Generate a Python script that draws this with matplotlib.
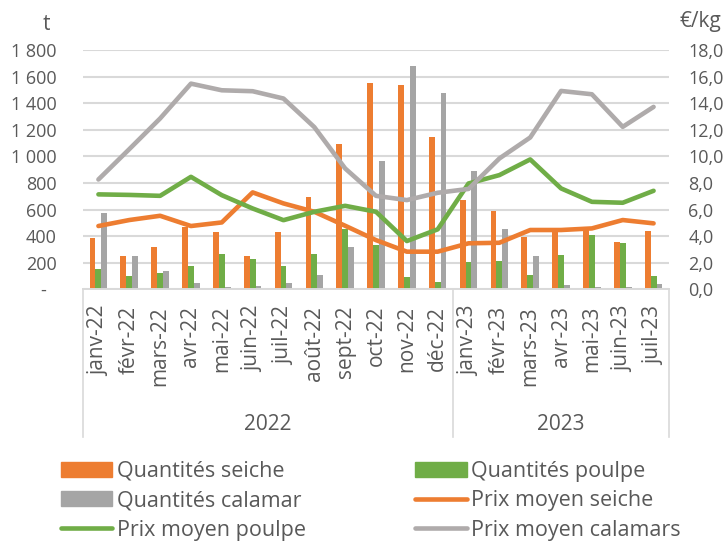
import numpy as np
import matplotlib
matplotlib.use("Agg")
import matplotlib.pyplot as plt
from matplotlib.patches import Patch
from matplotlib.lines import Line2D

plt.rcParams['font.family'] = ['Open Sans', 'DejaVu Sans']

mois = ['janv-22', 'févr-22', 'mars-22', 'avr-22', 'mai-22', 'juin-22', 'juil-22',
        'août-22', 'sept-22', 'oct-22', 'nov-22', 'déc-22',
        'janv-23', 'févr-23', 'mars-23', 'avr-23', 'mai-23', 'juin-23', 'juil-23']

# quantités (t)
qte_seiche = [383, 250, 315, 466, 430, 250, 430, 691, 1096, 1555, 1534, 1146,
              670, 590, 390, 433, 470, 358, 438]
qte_poulpe = [150, 102, 125, 175, 265, 225, 175, 265, 450, 333, 95, 53,
              207, 212, 107, 258, 408, 345, 102]
qte_calamar = [571, 248, 140, 45, 20, 25, 50, 107, 320, 963, 1677, 1479,
               891, 453, 250, 32, 15, 15, 40]

# prix moyens (€/kg)
prix_seiche = [4.76, 5.21, 5.53, 4.76, 5.03, 7.29, 6.46, 5.83, 4.78, 3.70, 2.83, 2.83,
               3.46, 3.50, 4.46, 4.46, 4.58, 5.21, 4.96]
prix_poulpe = [7.14, 7.10, 7.03, 8.46, 7.08, 6.08, 5.20, 5.83, 6.28, 5.83, 3.63, 4.51,
               7.96, 8.59, 9.77, 7.59, 6.58, 6.51, 7.41]
prix_calamar = [8.26, 10.54, 12.85, 15.47, 14.97, 14.90, 14.35, 12.20, 9.09, 7.03, 6.71, 7.26,
                7.55, 9.84, 11.42, 14.92, 14.67, 12.22, 13.72]

annees = ['2022', '2023']
nb_mois = [12, 7]

orange = '#ED7D31'
vert = '#70AD47'
gris_barre = '#A5A5A5'
gris_ligne = '#AFABAB'
texte = '#595959'
grille = '#D9D9D9'

fig = plt.figure(figsize=(7.26, 5.43), dpi=100)
ax = fig.add_axes([83 / 726, 1 - 289.3 / 543, (669 - 83) / 726, (289.3 - 50) / 543])
ax2 = ax.twinx()

x = np.arange(len(mois))
w = 0.19
ax.bar(x - w, qte_seiche, w, color=orange, zorder=2)
ax.bar(x, qte_poulpe, w, color=vert, zorder=2)
ax.bar(x + w, qte_calamar, w, color=gris_barre, zorder=2)

lw = 3.3
ax2.plot(x, prix_seiche, color=orange, lw=lw, solid_capstyle='round', solid_joinstyle='round')
ax2.plot(x, prix_poulpe, color=vert, lw=lw, solid_capstyle='round', solid_joinstyle='round')
ax2.plot(x, prix_calamar, color=gris_ligne, lw=lw, solid_capstyle='round', solid_joinstyle='round')

ax.set_xlim(-0.5, len(mois) - 0.5)
ax.set_ylim(0, 1800)
ax2.set_ylim(0, 18)

yt = np.arange(0, 1801, 200)
ax.set_yticks(yt)
ax.set_yticklabels(['-  '] + [f'{v:,}'.replace(',', ' ') for v in yt[1:]])
ax2.set_yticks(np.arange(0, 18.1, 2))
ax2.set_yticklabels([f'{v:.1f}'.replace('.', ',') for v in np.arange(0, 18.1, 2)])

ax.grid(axis='y', color=grille, lw=1.5, zorder=0)
ax.set_axisbelow(True)
for a in (ax, ax2):
    for s in ('top', 'left', 'right'):
        a.spines[s].set_visible(False)
    a.spines['bottom'].set_color(grille)
    a.spines['bottom'].set_linewidth(1.2)
ax.tick_params(axis='y', length=0, pad=19, labelsize=13, labelcolor=texte)
ax2.tick_params(axis='y', length=0, pad=14, labelsize=13, labelcolor=texte)

ax.set_xticks(x)
ax.set_xticklabels(mois, rotation=90, fontsize=15, color=texte, va='top', ha='center')
ax.tick_params(axis='x', length=0, pad=12)

# regroupement par année
tr = ax.get_xaxis_transform()
debut = -0.5
for annee, n in zip(annees, nb_mois):
    fin = debut + n
    ax.text((debut + fin) / 2, -0.563, annee, transform=tr, ha='center', va='center',
            fontsize=15, color=texte)
    debut = fin
bornes = np.cumsum([0] + nb_mois) - 0.5
for b in bornes:
    ax.plot([b, b], [0, -0.617], transform=tr, color=grille, lw=1.2, clip_on=False)

fig.text(46 / 726, 1 - 24 / 543, 't', ha='center', va='center', fontsize=15, color=texte)
fig.text(700 / 726, 1 - 21 / 543, '€/kg', ha='center', va='center', fontsize=15, color=texte)

handles = [
    Patch(color=orange), Patch(color=gris_barre),
    Line2D([], [], color=vert, lw=lw, solid_capstyle='round'),
    Patch(color=vert),
    Line2D([], [], color=orange, lw=lw, solid_capstyle='round'),
    Line2D([], [], color=gris_ligne, lw=lw, solid_capstyle='round'),
]
labels = ['Quantités seiche', 'Quantités calamar', 'Prix moyen poulpe',
          'Quantités poulpe', 'Prix moyen seiche', 'Prix moyen calamars']
leg = fig.legend(handles, labels, ncol=2, loc='upper left', bbox_to_anchor=(52 / 726, 1 - 452 / 543),
                 frameon=False, fontsize=15.5, labelcolor=texte, handlelength=2.4,
                 handletextpad=0.2, columnspacing=5.1, labelspacing=0.4, borderaxespad=0)

fig.savefig('out.png', dpi=100)
